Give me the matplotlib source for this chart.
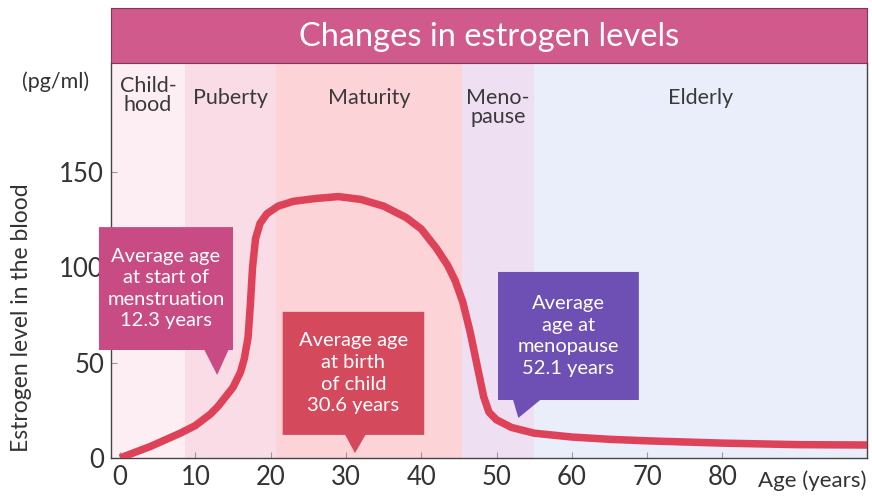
import matplotlib
matplotlib.use("Agg")
import matplotlib.pyplot as plt
from matplotlib.patches import Polygon

plt.rcParams['font.family'] = ['Lato', 'DejaVu Sans']

# ---- data ----
ages = [0, 2, 4, 6, 8, 10, 12, 13, 14, 15, 16, 16.5, 17, 17.3, 17.6, 18, 18.6,
        19.5, 21, 23, 26, 29, 32, 35, 38, 40, 42, 43.5, 44.5, 45.5, 46.5, 47.5,
        48.3, 49, 50, 52, 55, 60, 65, 70, 80, 90, 99.5]
estrogen = [0, 3, 6, 9.5, 13, 17, 23, 27, 32, 37, 45, 52, 63, 80, 100, 115, 123,
            128, 132, 134.5, 136, 137, 135.5, 132, 126, 120, 110, 101, 93, 82, 66, 47,
            32, 24, 20, 16, 13, 11, 9.8, 9, 7.8, 7, 6.8]

stage_names = ["Child-\nhood", "Puberty", "Maturity", "Meno-\npause", "Elderly"]
stage_bounds = [-1.2, 8.6, 20.7, 45.4, 55.0, 99.2]
stage_colors = ["#fdeef4", "#f9dce6", "#fcd3d6", "#efdff3", "#e9eefa"]

x_ticks = [0, 10, 20, 30, 40, 50, 60, 70, 80]
y_ticks = [0, 50, 100, 150]

notes = ["Average age\nat start of\nmenstruation\n12.3 years",
         "Average age\nat birth\nof child\n30.6 years",
         "Average\nage at\nmenopause\n52.1 years"]
note_ages = [12.3, 30.6, 52.1]
note_colors = ["#c84b84", "#d44a5c", "#6e4fb4"]

# ---- figure ----
W, H = 872, 497
fig = plt.figure(figsize=(W / 100, H / 100), dpi=100)

def fx(px):
    return px / W

def fy(py):
    return 1 - py / H

L, R, T, B = 111, 867, 63, 458
ax = fig.add_axes([fx(L), fy(B), fx(R - L), fy(T) - fy(B)])
ax.set_xlim(stage_bounds[0], stage_bounds[-1])
ax.set_ylim(0, 207)

label_y = [190, 188.8, 188.8, 183.5, 188.8]
for i, name in enumerate(stage_names):
    x0, x1 = stage_bounds[i], stage_bounds[i + 1]
    ax.axvspan(x0, x1, color=stage_colors[i], lw=0, zorder=0)
    ax.text((x0 + x1) / 2, label_y[i], name, ha="center", va="center",
            fontsize=15.5, color="#3a3a3a", linespacing=0.92, zorder=2)

ax.plot(ages, estrogen, color="#de4258", lw=5.4, solid_capstyle="butt",
        solid_joinstyle="round", zorder=3)

# callout boxes: (x0, x1, y0, y1), base of pointer (xa, xb), tip (x, y)
boxes = [(-2.8, 15.0, 56.6, 121), (21.6, 40.4, 12.1, 76.6), (50.2, 68.9, 30.4, 97.5)]
bases = [(11.2, 14.4), (29.9, 32.6), (52.2, 55.8)]
tips = [(note_ages[0] + 0.6, 43.5), (note_ages[1] + 0.6, 2.6), (note_ages[2] + 0.8, 21)]
for (bx0, bx1, by0, by1), (xa, xb), (tx, ty), txt, c in zip(boxes, bases, tips, notes, note_colors):
    poly = Polygon([(bx0, by0), (xa, by0), (tx, ty), (xb, by0), (bx1, by0),
                    (bx1, by1), (bx0, by1)], closed=True, fc=c, ec="none",
                   zorder=4, clip_on=False)
    ax.add_patch(poly)
    ax.text((bx0 + bx1) / 2, (by0 + by1) / 2, txt, ha="center", va="center",
            color="white", fontsize=14.5, linespacing=1.33, zorder=5)

ax.set_xticks(x_ticks)
ax.set_yticks(y_ticks)
ax.tick_params(axis="both", direction="in", length=4, width=0.8, color="#9a9a9a",
               labelsize=18.5, labelcolor="#333333", pad=5)
for s in ["left", "bottom", "right"]:
    ax.spines[s].set_color("#444444")
    ax.spines[s].set_linewidth(1.0)
ax.spines["top"].set_visible(False)

# header
hdr = fig.add_axes([fx(L), fy(T), fx(R - L), fy(8) - fy(T)])
hdr.set_facecolor("#d05a8b")
hdr.set_xticks([])
hdr.set_yticks([])
for s in hdr.spines.values():
    s.set_color("#7a3a55")
    s.set_linewidth(0.8)
hdr.text(0.5, 0.47, "Changes in estrogen levels", ha="center", va="center",
         color="white", fontsize=23.5, fontweight="normal", transform=hdr.transAxes)

fig.text(fx(56), fy(82), "(pg/ml)", ha="center", va="center", fontsize=15.5,
         color="#333333")
fig.text(fx(22), fy(318), "Estrogen level in the blood", ha="center", va="center",
         rotation=90, fontsize=16.5, color="#333333")
fig.text(fx(812), fy(481), "Age (years)", ha="center", va="center", fontsize=16,
         color="#333333")

fig.savefig("out.png", dpi=100, facecolor="white")
